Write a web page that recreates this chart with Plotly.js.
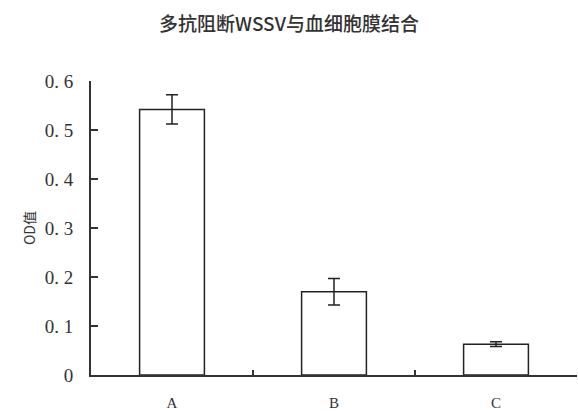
<!DOCTYPE html>
<html><head><meta charset="utf-8">
<script src="https://cdn.plot.ly/plotly-3.0.1.min.js"></script>
<style>html,body{margin:0;padding:0;background:#fff;}#chart{width:578px;height:412px;}</style>
</head><body><div id="chart"></div>
<script>
const categories = ["A", "B", "C"];
const odValues = [0.542, 0.170, 0.063];
const errValues = [0.030, 0.027, 0.005];
const yTickVals = [0, 0.1, 0.2, 0.3, 0.4, 0.5, 0.6];
const yTickText = ["0", "0. 1", "0. 2", "0. 3", "0. 4", "0. 5", "0. 6"];

const trace = {
  type: "bar",
  x: categories,
  y: odValues,
  width: 0.4,
  marker: {color: "#ffffff", line: {color: "#222", width: 1.5}},
  error_y: {type: "data", array: errValues, visible: true, color: "#222", thickness: 1.5, width: 6}
};
const layout = {
  width: 578, height: 412,
  margin: {l: 91, r: 1, t: 81, b: 37},
  paper_bgcolor: "#fff", plot_bgcolor: "#fff",
  showlegend: false,
  title: {text: "多抗阻断WSSV与血细胞膜结合", x: 0.5, xref: "container", xanchor: "center", y: 0.94, yref: "container", yanchor: "middle",
          font: {family: "Noto Sans CJK SC", size: 19, color: "#333", weight: 500}},
  xaxis: {
    type: "category", range: [-0.5, 2.5], tickson: "boundaries",
    showline: true, linecolor: "#333", linewidth: 2,
    ticks: "inside", ticklen: 5, tickwidth: 2, tickcolor: "#333",
    showgrid: false, zeroline: false, ticklabelstandoff: 13,
    tickfont: {family: "Liberation Serif", size: 15, color: "#333"}
  },
  yaxis: {
    range: [0, 0.6], tickvals: yTickVals, ticktext: yTickText,
    showline: true, linecolor: "#333", linewidth: 2,
    ticks: "inside", ticklen: 7, tickwidth: 2, tickcolor: "#333",
    showgrid: false, zeroline: false, ticklabelstandoff: 12,
    tickfont: {family: "Liberation Serif", size: 19, color: "#333"},
    title: {text: "OD值", standoff: 6, font: {family: "Noto Sans CJK SC", size: 14, color: "#333"}}
  }
};
Plotly.newPlot("chart", [trace], layout, {displayModeBar: false, staticPlot: true});
</script></body></html>
